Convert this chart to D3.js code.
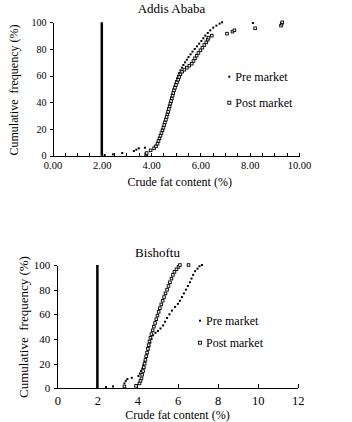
<!DOCTYPE html>
<html>
<head>
<meta charset="utf-8">
<script src="https://cdn.jsdelivr.net/npm/d3@7"></script>
<style>
  body { margin: 0; background: #fff; }
  svg { display: block; font-family: "Liberation Serif", "Times New Roman", serif; }
  .axis path, .axis line { stroke: #000; shape-rendering: crispEdges; }
  .axis text { fill: #000; font-family: "Liberation Serif", serif; }
</style>
</head>
<body>
<div id="chart"></div>
<script>
// [crude fat %, cumulative frequency %]
var addisPre = [
  [2.12,0.5],[2.45,1],[2.83,2],[3.30,3.5],[3.40,4.5],[3.50,5.5],[3.75,6],
  [4.15,7],[4.22,8],[4.27,10],[4.32,12],[4.36,14],[4.40,16],[4.44,18],[4.47,20],
  [4.50,22],[4.54,24],[4.57,26],[4.60,28],[4.63,30],[4.66,32],[4.69,34],[4.72,36],
  [4.75,38],[4.78,40],[4.81,42],[4.84,44],[4.86,46],[4.89,48],[4.92,50],[4.95,52],
  [4.98,54],[5.02,56],[5.05,58],[5.09,60],[5.14,62],[5.19,64],[5.25,66],[5.31,68],
  [5.38,70],[5.45,72],[5.52,74],[5.60,76],[5.68,78],[5.77,80],[5.86,82],[5.95,84],
  [6.04,86],[6.12,88],[6.20,90],[6.30,92],[6.40,94],[6.52,96],[6.65,97.5],[6.78,99],
  [6.88,100],[8.13,99.5]
];
var addisPost = [
  [3.80,1],[3.82,2],[3.98,4],[4.12,5.5],[4.20,7],[4.26,9],[4.30,11],[4.34,13],
  [4.38,15],[4.42,17],[4.46,19],[4.50,21],[4.53,23],[4.56,25],[4.60,27],[4.63,29],
  [4.66,31],[4.69,33],[4.72,35],[4.75,37],[4.78,39],[4.81,41],[4.84,43],[4.87,45],
  [4.90,47],[4.93,49],[4.97,51],[5.01,53],[5.05,55],[5.10,57],[5.14,59],[5.19,61],
  [5.26,63],[5.35,64.5],[5.45,66],[5.55,67.5],[5.65,69],[5.72,71],[5.78,73],[5.85,75],
  [5.92,77],[6.00,79],[6.08,81],[6.16,83],[6.24,85],[6.30,87],[6.33,88.5],[6.46,90],
  [7.08,91.5],[7.30,93],[7.38,94],[8.22,95.5],[9.27,97.5],[9.30,99],[9.32,100]
];
var bishPre = [
  [2.43,1],[2.78,1.5],[3.35,4],[3.42,6],[3.50,7.5],[3.72,8.5],[4.05,10],[4.12,12],
  [4.18,14],[4.24,16],[4.30,19],[4.36,22],[4.42,25],[4.48,28],[4.54,31],[4.59,34],
  [4.64,37],[4.70,40],[4.78,43],[4.90,45],[5.02,46.5],[5.15,48.5],[5.28,51],[5.38,54],
  [5.48,57],[5.60,60],[5.72,63],[5.88,66],[6.02,68.5],[6.12,71],[6.22,74],[6.32,77],
  [6.42,80],[6.52,83],[6.62,86],[6.70,89],[6.78,92],[6.88,95],[7.00,97],[7.10,99],
  [7.22,100]
];
var bishPost = [
  [3.35,1.5],[3.93,2],[4.10,4],[4.15,6],[4.20,8],[4.24,11],[4.28,14],[4.32,17],
  [4.36,20],[4.40,23],[4.44,26],[4.48,29],[4.52,32],[4.56,35],[4.60,38],[4.65,41],
  [4.70,44],[4.76,47],[4.82,50],[4.88,53],[4.94,56],[5.00,59],[5.06,62],[5.12,65],
  [5.19,68],[5.26,71],[5.33,74],[5.40,77],[5.48,80],[5.55,83],[5.62,86],[5.70,89],
  [5.77,92],[5.85,94.5],[5.95,96.5],[6.05,98.5],[6.12,100],[6.55,100]
];
var yTicks = [0, 20, 40, 60, 80, 100];
var addisXTicks = [0, 2, 4, 6, 8, 10];
var bishXTicks = [0, 2, 4, 6, 8, 10, 12];
var limitValue = 2;
var seriesNames = ["Pre market", "Post market"];

var svg = d3.select("#chart").append("svg")
  .attr("width", 352)
  .attr("height", 422);

svg.append("rect").attr("width", 352).attr("height", 422).attr("fill", "#fff");

function drawChart(cfg) {
  var x = d3.scaleLinear().domain(cfg.xDomain).range([cfg.left, cfg.right]);
  var y = d3.scaleLinear().domain([0, 100]).range([cfg.bottom, cfg.top]);
  var g = svg.append("g");

  // x axis, ticks pointing inward
  var xAxis = d3.axisBottom(x)
    .tickValues(cfg.xTickValues)
    .tickSizeInner(-cfg.xTickLen)
    .tickSizeOuter(0)
    .tickPadding(cfg.xPad)
    .tickFormat(function(v) { return cfg.xLabels.indexOf(v) >= 0 ? cfg.xFormat(v) : ""; });
  g.append("g").attr("class", "axis")
    .attr("transform", "translate(0," + cfg.bottom + ")")
    .call(xAxis)
    .selectAll("text").style("font-size", cfg.xFont + "px");

  var yAxis = d3.axisLeft(y)
    .tickValues(yTicks)
    .tickSizeInner(3)
    .tickSizeOuter(0)
    .tickPadding(cfg.yPad);
  g.append("g").attr("class", "axis")
    .attr("transform", "translate(" + cfg.left + ",0)")
    .call(yAxis)
    .selectAll("text").style("font-size", cfg.yFont + "px");

  // limit line
  g.append("line")
    .attr("x1", x(limitValue)).attr("x2", x(limitValue))
    .attr("y1", y(0)).attr("y2", y(100))
    .attr("stroke", "#000").attr("stroke-width", 2.5);

  // pre market dots
  g.append("g").selectAll("rect")
    .data(cfg.pre).enter().append("rect")
    .attr("x", d => x(d[0]) - 1)
    .attr("y", d => y(d[1]) - 1)
    .attr("width", 2).attr("height", 2)
    .attr("fill", "#000");

  // post market hollow squares
  g.append("g").selectAll("rect")
    .data(cfg.post).enter().append("rect")
    .attr("x", d => x(d[0]) - 1.3)
    .attr("y", d => y(d[1]) - 1.3)
    .attr("width", 2.6).attr("height", 2.6)
    .attr("fill", "#fff").attr("stroke", "#000").attr("stroke-width", 0.9);

  // titles
  g.append("text")
    .attr("x", cfg.titleX).attr("y", cfg.titleY)
    .attr("text-anchor", "middle")
    .style("font-size", "13px")
    .text(cfg.title);

  g.append("text")
    .attr("x", (cfg.left + cfg.right) / 2 + cfg.xTitleShift).attr("y", cfg.xTitleY)
    .attr("text-anchor", "middle")
    .style("font-size", "12px")
    .text("Crude fat content (%)");

  g.append("text")
    .attr("transform", "translate(" + cfg.yTitleX + "," + cfg.yTitleY + ") rotate(-90)")
    .attr("text-anchor", "middle")
    .attr("dy", "0.35em")
    .style("font-size", cfg.yTitleFont + "px")
    .style("white-space", "pre")
    .attr("xml:space", "preserve")
    .text("Cumulative  frequency (%)");

  // legend
  var lg = g.append("g");
  lg.append("rect")
    .attr("x", cfg.legX - 1).attr("y", cfg.legY1 - 1)
    .attr("width", 2).attr("height", 2).attr("fill", "#000");
  lg.append("rect")
    .attr("x", cfg.legX - 1.5).attr("y", cfg.legY2 - 1.5)
    .attr("width", 3).attr("height", 3)
    .attr("fill", "#fff").attr("stroke", "#000").attr("stroke-width", 0.9);
  lg.append("text")
    .attr("x", cfg.legX + 6).attr("y", cfg.legY1 + 4.5)
    .style("font-size", "12px").text(seriesNames[0]);
  lg.append("text")
    .attr("x", cfg.legX + 6).attr("y", cfg.legY2 + 4.5)
    .style("font-size", "12px").text(seriesNames[1]);
}

drawChart({
  title: "Addis Ababa", titleX: 171.5, titleY: 12.5,
  left: 52.5, right: 299, top: 22.3, bottom: 155.7,
  xDomain: [0, 10], xTickValues: d3.range(0, 10.01, 0.5), xLabels: addisXTicks,
  xFormat: d3.format(".2f"), xTickLen: 3, xPad: 6, xFont: 10.5, yFont: 10, yPad: 3,
  xTitleShift: 4, xTitleY: 186,
  yTitleX: 14, yTitleY: 90, yTitleFont: 12,
  pre: addisPre, post: addisPost,
  legX: 229.3, legY1: 76.7, legY2: 102.7
});

drawChart({
  title: "Bishoftu", titleX: 157.5, titleY: 256.5,
  left: 57.3, right: 297.7, top: 265, bottom: 388.3,
  xDomain: [0, 12], xTickValues: bishXTicks, xLabels: bishXTicks,
  xFormat: d3.format("d"), xTickLen: 4, xPad: 8, xFont: 12.5, yFont: 11, yPad: 4,
  xTitleShift: 0, xTitleY: 418.5,
  yTitleX: 23.3, yTitleY: 327, yTitleFont: 13,
  pre: bishPre, post: bishPost,
  legX: 200, legY1: 320.7, legY2: 342.7
});
</script>
</body>
</html>
